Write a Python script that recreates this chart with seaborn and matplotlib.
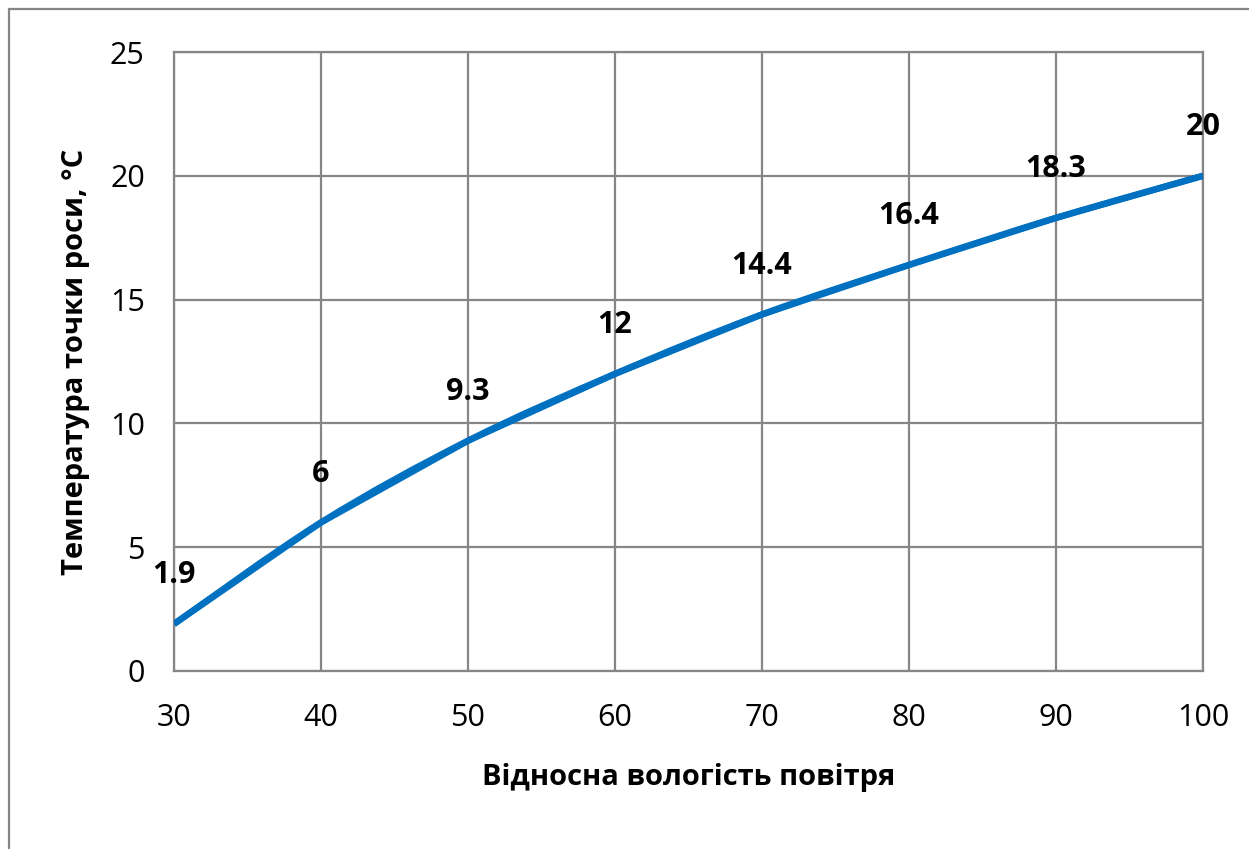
import matplotlib
matplotlib.use("Agg")
import matplotlib.pyplot as plt
import seaborn as sns
import pandas as pd
from matplotlib.patches import Rectangle, PathPatch
from matplotlib.path import Path

# Chart data
humidity = [30, 40, 50, 60, 70, 80, 90, 100]
dew_point = [1.9, 6, 9.3, 12, 14.4, 16.4, 18.3, 20]
x_ticks = [30, 40, 50, 60, 70, 80, 90, 100]
y_ticks = [0, 5, 10, 15, 20, 25]

x_label = "Відносна вологість повітря"
y_label = "Температура точки роси, °C"

df = pd.DataFrame({"x": humidity, "y": dew_point})

sns.set_theme(style="white")
plt.rcParams['font.family'] = ['Open Sans', 'DejaVu Sans']

grid_color = "#868686"
line_color = "#0070C0"
lw = 4.6

fig = plt.figure(figsize=(12.49, 8.49), dpi=100)
ax = fig.add_axes([174 / 1249, 1 - 671 / 849, (1203 - 174) / 1249, (671 - 52) / 849])

sns.lineplot(data=df, x="x", y="y", ax=ax, color=line_color, linewidth=lw,
             solid_capstyle="butt", zorder=3)

# smoothed line like Excel (Catmull-Rom bezier through the data points)
verts = [(humidity[0], dew_point[0])]
codes = [Path.MOVETO]
n = len(humidity)
for i in range(n - 1):
    p0 = (humidity[max(i - 1, 0)], dew_point[max(i - 1, 0)])
    p1 = (humidity[i], dew_point[i])
    p2 = (humidity[i + 1], dew_point[i + 1])
    p3 = (humidity[min(i + 2, n - 1)], dew_point[min(i + 2, n - 1)])
    c1 = (p1[0] + (p2[0] - p0[0]) / 6, p1[1] + (p2[1] - p0[1]) / 6)
    c2 = (p2[0] - (p3[0] - p1[0]) / 6, p2[1] - (p3[1] - p1[1]) / 6)
    verts += [c1, c2, p2]
    codes += [Path.CURVE4] * 3
ax.add_patch(PathPatch(Path(verts, codes), fill=False, edgecolor=line_color,
                       linewidth=lw, capstyle="butt", zorder=3))

# data labels above points
for xv, yv in zip(humidity, dew_point):
    ax.annotate(f"{yv:g}", (xv, yv), xytext=(0, 35), textcoords="offset points",
                ha="center", va="center", fontsize=22, fontweight="bold",
                color="black", zorder=4)

ax.set_xlim(30, 100)
ax.set_ylim(0, 25)
ax.set_xticks(x_ticks)
ax.set_yticks(y_ticks)
ax.grid(True, color=grid_color, linewidth=1.6)
for sp in ax.spines.values():
    sp.set_color(grid_color)
    sp.set_linewidth(1.6)
ax.tick_params(axis="both", which="major", length=8, width=1.6, color=grid_color,
               direction="out", labelsize=22, labelcolor="black")
ax.tick_params(axis="y", pad=13)
ax.tick_params(axis="x", pad=15)
ax.set_xlabel(x_label, fontsize=21, fontweight="bold", color="black", labelpad=22)
ax.set_ylabel(y_label, fontsize=21, fontweight="bold", color="black", labelpad=14)

# outer chart frame
fig.patches.append(Rectangle((8.5 / 1249, -0.05), 1.2, 1 - 8.5 / 849 + 0.05,
                             transform=fig.transFigure, fill=False,
                             edgecolor=grid_color, linewidth=1.6, zorder=0))

fig.savefig("out.png", dpi=100)
